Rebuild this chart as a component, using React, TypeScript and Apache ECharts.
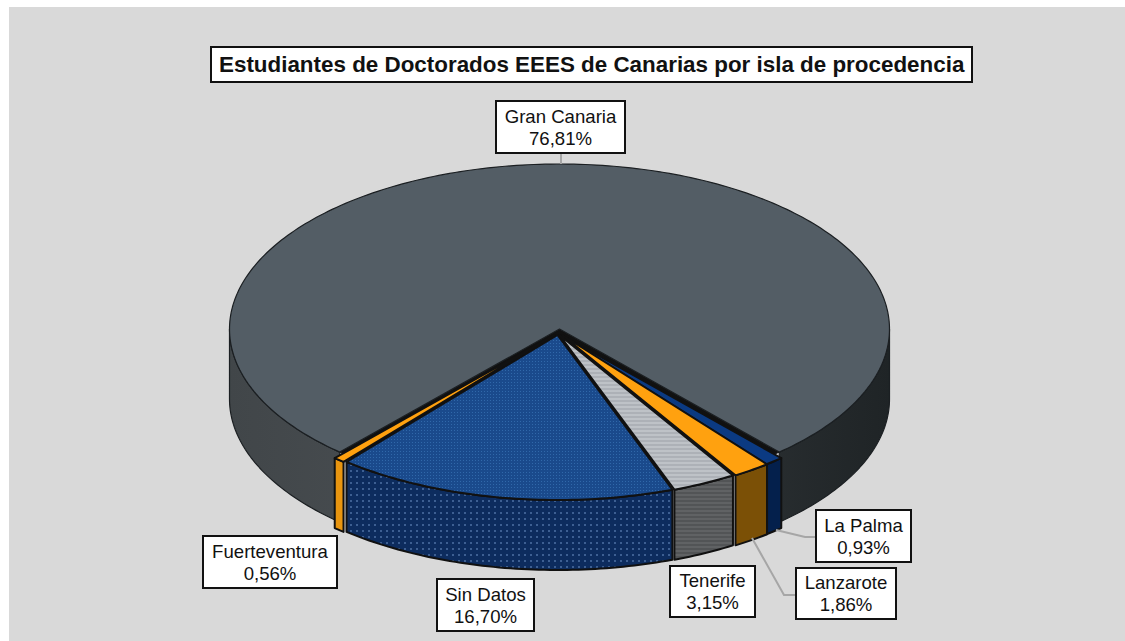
import React, { useEffect, useRef } from "react";
import * as echarts from "echarts";

const TITLE = "Estudiantes de Doctorados EEES de Canarias por isla de procedencia";
const categories = ["Gran Canaria", "La Palma", "Lanzarote", "Tenerife", "Sin Datos", "Fuerteventura"];
const shares = [76.81, 0.93, 1.86, 3.15, 16.7, 0.56];

// Layout only
const CX = 559.5, CY = 329, RX = 330, RY = 165, H = 70;
const sliceShiftX = [0, 2, 2.5, 0, -2, -5];
const labelBoxes = [
  [496, 101, 129, 52],
  [816, 510, 95, 52],
  [796, 568, 100, 51],
  [670, 566, 85, 51],
  [437, 579, 97, 52],
  [203, 536, 134, 52],
];
const leaders = [
  [[561, 153], [561, 164]],
  [[776, 530], [805, 537], [816, 537]],
  [[752, 538], [784, 595], [796, 595]],
];

function makePattern(bg: string, fg: string, w: number, h: number, rects: number[][]) {
  const c = document.createElement("canvas");
  c.width = w;
  c.height = h;
  const g = c.getContext("2d")!;
  g.fillStyle = bg;
  g.fillRect(0, 0, w, h);
  g.fillStyle = fg;
  rects.forEach((r) => g.fillRect(r[0], r[1], r[2], r[3]));
  return { image: c, repeat: "repeat" };
}

const rad = (d: number) => (d * Math.PI) / 180;
const fmt = (v: number) => v.toFixed(2).replace(".", ",") + "%";

export default function App() {
  const ref = useRef<HTMLDivElement>(null);
  useEffect(() => {
    const chart = echarts.init(ref.current!, undefined, { renderer: "svg" });
    const total = shares.reduce((a, b) => a + b, 0);
    const startAngle = (-shares[0] / total) * 180;

    const gcWall = new echarts.graphic.LinearGradient(
      CX - RX, 0, CX + RX, 0,
      [
        { offset: 0, color: "#414649" },
        { offset: 0.35, color: "#4a4f53" },
        { offset: 0.72, color: "#2c3134" },
        { offset: 1, color: "#1f2426" },
      ],
      true
    );
    const tops: any[] = [
      "#535d65",
      "#0b3a82",
      "#ffa10f",
      makePattern("#bec2c7", "#adb1b7", 4, 4, [[0, 0, 4, 2]]),
      makePattern("#1a4a8c", "#3068aa", 3, 3, [[1, 1, 1, 1]]),
      "#ffa10f",
    ];
    const walls: any[] = [
      gcWall,
      "#04204c",
      "#7b5006",
      makePattern("#606264", "#525456", 4, 4, [[0, 0, 4, 2]]),
      makePattern("#0d2c5e", "#3d5f92", 6, 6, [[2, 2, 2, 2]]),
      "#e8950f",
    ];

    const renderItem = (params: any, api: any) => {
      const i = params.dataIndex;
      const before = shares.slice(0, i).reduce((a, b) => a + b, 0);
      const s = startAngle + (before / total) * 360;
      const e = s + (api.value(0) / total) * 360;
      const dx = sliceShiftX[i];
      const dy = i === 0 ? 0 : 6;
      const pt = (t: number, down = 0) => [
        CX + dx + RX * Math.sin(rad(t)),
        CY + dy - RY * Math.cos(rad(t)) + down,
      ];
      const arc = (a: number, b: number, down = 0) => {
        const n = Math.max(2, Math.ceil(Math.abs(b - a)));
        return Array.from({ length: n + 1 }, (_, k) => pt(a + ((b - a) * k) / n, down));
      };
      const sw = i === 0 ? 1.2 : 2;
      const stroke = i === 0 ? "#1b1f22" : "#111111";
      const children: any[] = [];
      if (i === 0) {
        // dark hollow left where the other slices were pulled out of the disc
        children.push({
          type: "polygon",
          shape: { points: [[CX, CY], ...arc(e, s + 360)] },
          style: { fill: "#111111", stroke: "#111111", lineWidth: 1 },
        });
      }
      [[90, 270], [-270, -90]].forEach(([lo, hi]) => {
        const a = Math.max(s, lo);
        const b = Math.min(e, hi);
        if (b > a) {
          children.push({
            type: "polygon",
            shape: { points: [...arc(a, b), ...arc(b, a, H)] },
            style: { fill: walls[i], stroke, lineWidth: sw, lineJoin: "round" },
          });
        }
      });
      children.push({
        type: "polygon",
        shape: { points: [[CX + dx, CY + dy], ...arc(s, e)] },
        style: { fill: tops[i], stroke, lineWidth: sw, lineJoin: "round" },
      });
      return { type: "group", children };
    };

    const graphics: any[] = [
      { type: "rect", z: -10, shape: { x: 9, y: 7, width: 1116, height: 634 }, style: { fill: "#d9d9d9" } },
    ];
    leaders.forEach((pts) =>
      graphics.push({
        type: "polyline",
        z: 20,
        shape: { points: pts },
        style: { fill: "none", stroke: "#a6a6a6", lineWidth: 2 },
      })
    );
    categories.forEach((name, i) => {
      const [x, y, w, h] = labelBoxes[i];
      graphics.push({
        type: "rect",
        z: 21,
        shape: { x, y, width: w, height: h },
        style: { fill: "#ffffff", stroke: "#111111", lineWidth: 2 },
      });
      graphics.push({
        type: "text",
        z: 22,
        style: {
          text: name + "\n" + fmt(shares[i]),
          x: x + w / 2,
          y: y + h / 2,
          align: "center",
          verticalAlign: "middle",
          lineHeight: 22,
          fontSize: 18.6,
          fontFamily: "Liberation Sans",
          fill: "#111111",
        },
      });
    });

    chart.setOption({
      animation: false,
      backgroundColor: "#ffffff",
      title: {
        text: TITLE,
        left: 211,
        top: 47,
        padding: [5, 8, 5, 8],
        backgroundColor: "#ffffff",
        borderColor: "#111111",
        borderWidth: 2,
        textStyle: { fontFamily: "Liberation Sans", fontWeight: "bold", fontSize: 22.4, color: "#111111", lineHeight: 25 },
      },
      graphic: graphics,
      series: [
        {
          type: "custom",
          coordinateSystem: "none",
          renderItem,
          data: shares,
          silent: true,
        },
      ],
    });
    return () => chart.dispose();
  }, []);
  return <div ref={ref} style={{ position: "fixed", left: 0, top: 0, width: 1125, height: 641 }} />;
}
